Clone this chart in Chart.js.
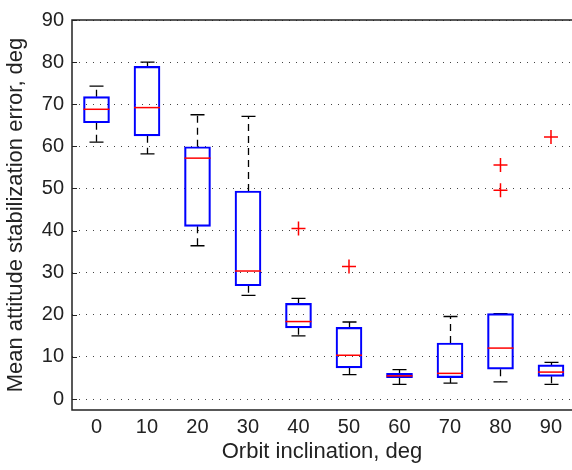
<!DOCTYPE html>
<html lang="en">
<head>
  <meta charset="UTF-8">
  <title>Mean attitude stabilization error</title>
  <script src="https://cdn.jsdelivr.net/npm/chart.js"></script>
  <style>
    html, body { margin: 0; padding: 0; background: #fff; }
    .wrap { width: 572px; height: 470px; }
  </style>
</head>
<body>
  <div class="wrap">
    <canvas id="grafico"></canvas>
  </div>

  <script>
    // orbit inclination, deg
    const categories = [0, 10, 20, 30, 40, 50, 60, 70, 80, 90];
    const whiskerLow  = [61.0, 58.2, 36.4, 24.6, 15.0, 5.8, 3.5, 3.8, 4.1, 3.5];
    const q1          = [65.6, 62.5, 41.0, 26.9, 16.9, 7.4, 5.1, 5.1, 7.1, 5.4];
    const medians     = [68.8, 69.2, 57.2, 30.4, 18.4, 10.4, 5.5, 6.1, 12.1, 6.4];
    const q3          = [71.8, 79.0, 59.9, 49.4, 22.7, 17.0, 6.1, 13.3, 20.3, 8.1];
    const whiskerHigh = [74.3, 80.0, 67.5, 67.1, 23.9, 18.3, 7.0, 19.6, 20.3, 8.7];
    const outlierX = [40, 50, 80, 80, 90];
    const outlierY = [40.5, 31.5, 55.6, 49.6, 62.2];
    const yTicks = [0, 10, 20, 30, 40, 50, 60, 70, 80, 90];

    const boxHalf = 13;
    const capHalf = 7;
    const fontFam = "Liberation Sans, Arial, sans-serif";

    const boxplotPlugin = {
      id: "boxplot",
      beforeDatasetsDraw(chart) {
        const { ctx, scales: { x, y } } = chart;
        ctx.save();
        ctx.strokeStyle = "#000";
        ctx.lineWidth = 1.3;
        categories.forEach((c, i) => {
          const px = Math.round(x.getPixelForValue(c)) + 0.5;
          // dashed whiskers
          ctx.setLineDash([7, 5]);
          ctx.beginPath();
          ctx.moveTo(px, y.getPixelForValue(q3[i]));
          ctx.lineTo(px, y.getPixelForValue(whiskerHigh[i]));
          ctx.moveTo(px, y.getPixelForValue(q1[i]));
          ctx.lineTo(px, y.getPixelForValue(whiskerLow[i]));
          ctx.stroke();
          // caps
          ctx.setLineDash([]);
          ctx.beginPath();
          [whiskerHigh[i], whiskerLow[i]].forEach(v => {
            const py = y.getPixelForValue(v);
            ctx.moveTo(px - capHalf, py);
            ctx.lineTo(px + capHalf, py);
          });
          ctx.stroke();
        });
        ctx.restore();
      },
      afterDatasetsDraw(chart) {
        const { ctx, chartArea, scales: { x, y } } = chart;
        ctx.save();
        // medians
        ctx.strokeStyle = "#ff0000";
        ctx.lineWidth = 1.5;
        categories.forEach((c, i) => {
          const px = x.getPixelForValue(c);
          const py = y.getPixelForValue(medians[i]);
          ctx.beginPath();
          ctx.moveTo(px - boxHalf, py);
          ctx.lineTo(px + boxHalf, py);
          ctx.stroke();
        });
        // axes frame (right side is cut off in the original)
        ctx.strokeStyle = "#222";
        ctx.lineWidth = 1.5;
        ctx.beginPath();
        ctx.moveTo(chartArea.right, chartArea.top);
        ctx.lineTo(chartArea.left, chartArea.top);
        ctx.lineTo(chartArea.left, chartArea.bottom);
        ctx.lineTo(chartArea.right, chartArea.bottom);
        ctx.stroke();
        // inward tick marks
        ctx.lineWidth = 1;
        ctx.beginPath();
        yTicks.forEach(v => {
          const py = Math.round(y.getPixelForValue(v)) + 0.5;
          ctx.moveTo(chartArea.left, py);
          ctx.lineTo(chartArea.left + 5, py);
        });
        ctx.stroke();
        ctx.restore();
      }
    };

    new Chart(document.getElementById("grafico"), {
      type: "bar",
      data: {
        datasets: [{
          label: "Box",
          data: categories.map((c, i) => ({ x: c, y: [q1[i], q3[i]] })),
          backgroundColor: "rgba(0,0,0,0)",
          borderColor: "#0000ff",
          borderWidth: 1.5,
          borderSkipped: false,
          barThickness: boxHalf * 2
        }, {
          type: "scatter",
          label: "Outliers",
          data: outlierX.map((c, i) => ({ x: c, y: outlierY[i] })),
          pointStyle: "cross",
          pointRadius: 7,
          pointHoverRadius: 7,
          borderColor: "#ff0000",
          borderWidth: 1.5
        }]
      },
      options: {
        responsive: true,
        maintainAspectRatio: false,
        animation: false,
        layout: { autoPadding: false, padding: { top: 14, right: 0, left: 0, bottom: 0 } },
        plugins: { legend: { display: false }, tooltip: { enabled: false } },
        scales: {
          x: {
            type: "linear",
            offset: false,
            min: -4.85,
            max: 94.16,
            afterBuildTicks: s => { s.ticks = categories.map(v => ({ value: v })); },
            afterFit: s => { s.height = 60; },
            grid: { display: false, drawTicks: false },
            border: { display: false },
            ticks: {
              color: "#222",
              font: { family: fontFam, size: 20 },
              padding: 5,
              maxRotation: 0,
              autoSkip: false
            },
            title: {
              display: true,
              text: "Orbit inclination, deg",
              color: "#222",
              font: { family: fontFam, size: 22 },
              padding: { top: 0, bottom: 5 }
            }
          },
          y: {
            min: -2.6,
            max: 90,
            afterBuildTicks: s => { s.ticks = yTicks.map(v => ({ value: v })); },
            afterFit: s => { s.width = 72; },
            grid: { color: "#444", lineWidth: 1, drawTicks: false },
            border: { display: false, dash: [1, 6] },
            ticks: {
              color: "#222",
              font: { family: fontFam, size: 20 },
              padding: 8
            },
            title: {
              display: true,
              text: "Mean attitude stabilization error, deg",
              color: "#222",
              font: { family: fontFam, size: 22 },
              padding: { top: 3, bottom: 0 }
            }
          }
        }
      },
      plugins: [boxplotPlugin]
    });
  </script>
</body>
</html>
